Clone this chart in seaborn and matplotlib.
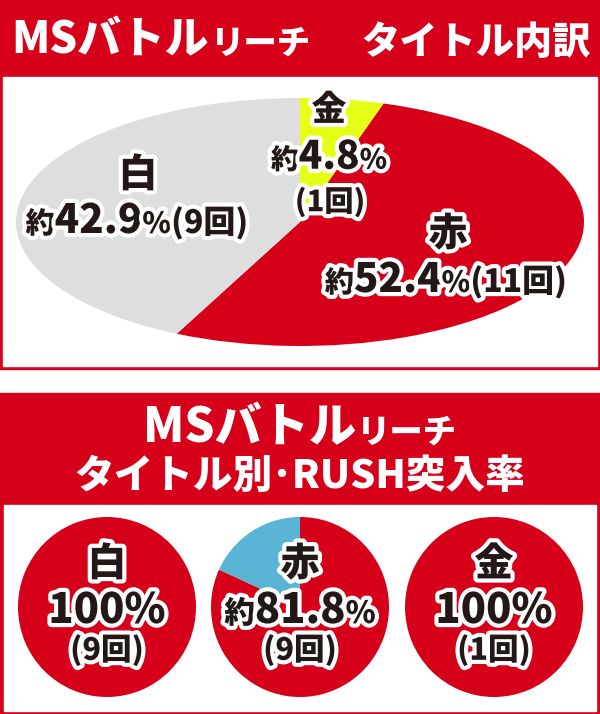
import matplotlib
matplotlib.use("Agg")
import matplotlib.pyplot as plt
import matplotlib.patheffects as pe
from matplotlib.patches import Rectangle
from matplotlib.offsetbox import TextArea, HPacker, AnnotationBbox, DrawingArea
import seaborn as sns

# data
title_names = ["金", "赤", "白"]
title_counts = [1, 11, 9]
title_colors = ["#e5ff17", "#d7001a", "#dedede"]

rush_names = ["白", "赤", "金"]
rush_hits = [9, 9, 1]
rush_totals = [9, 11, 1]
rush_colors = ["#d7001a", "#5ab4d6"]

RED = "#d7001a"
INK = "#231815"
FONTS = ["Noto Sans CJK JP", "DejaVu Sans"]

sns.set_theme(style="white")
plt.rcParams["font.family"] = FONTS

fig = plt.figure(figsize=(6, 7.14), dpi=100)
W, H = 600, 714

bg = fig.add_axes([0, 0, 1, 1], zorder=0)
bg.set_xlim(0, W)
bg.set_ylim(H, 0)
bg.axis("off")

top = fig.add_axes([0, 0, 1, 1], zorder=10)
top.set_xlim(0, W)
top.set_ylim(H, 0)
top.axis("off")
top.patch.set_alpha(0)

# panel frames
bg.add_patch(Rectangle((0, 0), 600, 369, color=RED))
bg.add_patch(Rectangle((3, 77), 594, 289, color="white"))
bg.add_patch(Rectangle((0, 393), 600, 321, color=RED))
bg.add_patch(Rectangle((4, 505), 592, 206, color="white"))


def pie_axes(cx, cy, rx, ry):
    return fig.add_axes([(cx - rx) / W, 1 - (cy + ry) / H, 2 * rx / W, 2 * ry / H], zorder=2)


def finish(ax):
    ax.set_aspect("auto")
    ax.set_xlim(-1, 1)
    ax.set_ylim(-1, 1)
    ax.axis("off")


def label(x, y, parts, color=INK, stroke=True, gap=0):
    # parts: (text, fontsize); a number alone is a blank gap in px
    kids = []
    for part in parts:
        if not isinstance(part, tuple):
            kids.append(DrawingArea(part, 1))
            continue
        s, fs = part
        props = dict(fontsize=fs, fontweight="black", color=color, family=FONTS)
        if stroke:
            props["path_effects"] = [pe.withStroke(linewidth=6, foreground="white")]
        kids.append(TextArea(s, textprops=props))
    box = HPacker(children=kids, align="baseline", pad=0, sep=gap)
    ab = AnnotationBbox(box, (x, y), xycoords=top.transData, frameon=False,
                        box_alignment=(0.5, 0.5), pad=0)
    top.add_artist(ab)


def pct_parts(p, big, small):
    if round(p, 1) == 100:
        return [("100%", big)]
    return [("約", small), (f"{p:.1f}", big), ("%", small)]


# top header
label(301, 40, [("MSバトル", 31.5), 2, ("リーチ", 24), 36, ("タイトル内訳", 27.5)],
      color="white", stroke=False)

# title breakdown pie (ellipse)
ax1 = pie_axes(300, 222, 284, 124)
ax1.pie(title_counts, colors=title_colors, startangle=90, counterclock=False,
        wedgeprops=dict(linewidth=0))
finish(ax1)

total = sum(title_counts)
pcts = [100 * c / total for c in title_counts]
# 金
label(329, 110, [(title_names[0], 25)])
label(329, 157, pct_parts(pcts[0], 28, 20))
label(330, 202, [(f"({title_counts[0]}回)", 21)])
# 赤
label(448, 234, [(title_names[1], 28)])
label(446, 280, pct_parts(pcts[1], 29, 21) + [(f"({title_counts[1]}回)", 23)])
# 白
label(138, 175, [(title_names[2], 28)])
label(137, 221, pct_parts(pcts[2], 29, 21) + [(f"({title_counts[2]}回)", 23)])

# bottom header
label(300, 428, [("MSバトル", 34), ("リーチ", 24)], color="white", stroke=False)
label(300, 476, [("タイトル別･RUSH突入率", 28.5)], color="white", stroke=False)

# RUSH rate pies
for i, (name, hit, tot) in enumerate(zip(rush_names, rush_hits, rush_totals)):
    cx = [107, 300, 494][i]
    ax = pie_axes(cx, 607, 89, 90)
    ax.pie([hit, tot - hit], colors=rush_colors, startangle=90, counterclock=False,
           wedgeprops=dict(linewidth=0))
    finish(ax)
    p = 100 * hit / tot
    label(cx, 564, [(name, 28)])
    label(cx, 611, pct_parts(p, 30, 22))
    label(cx, 650, [(f"({hit}回)", 22)])

fig.savefig("out.png", dpi=100)
